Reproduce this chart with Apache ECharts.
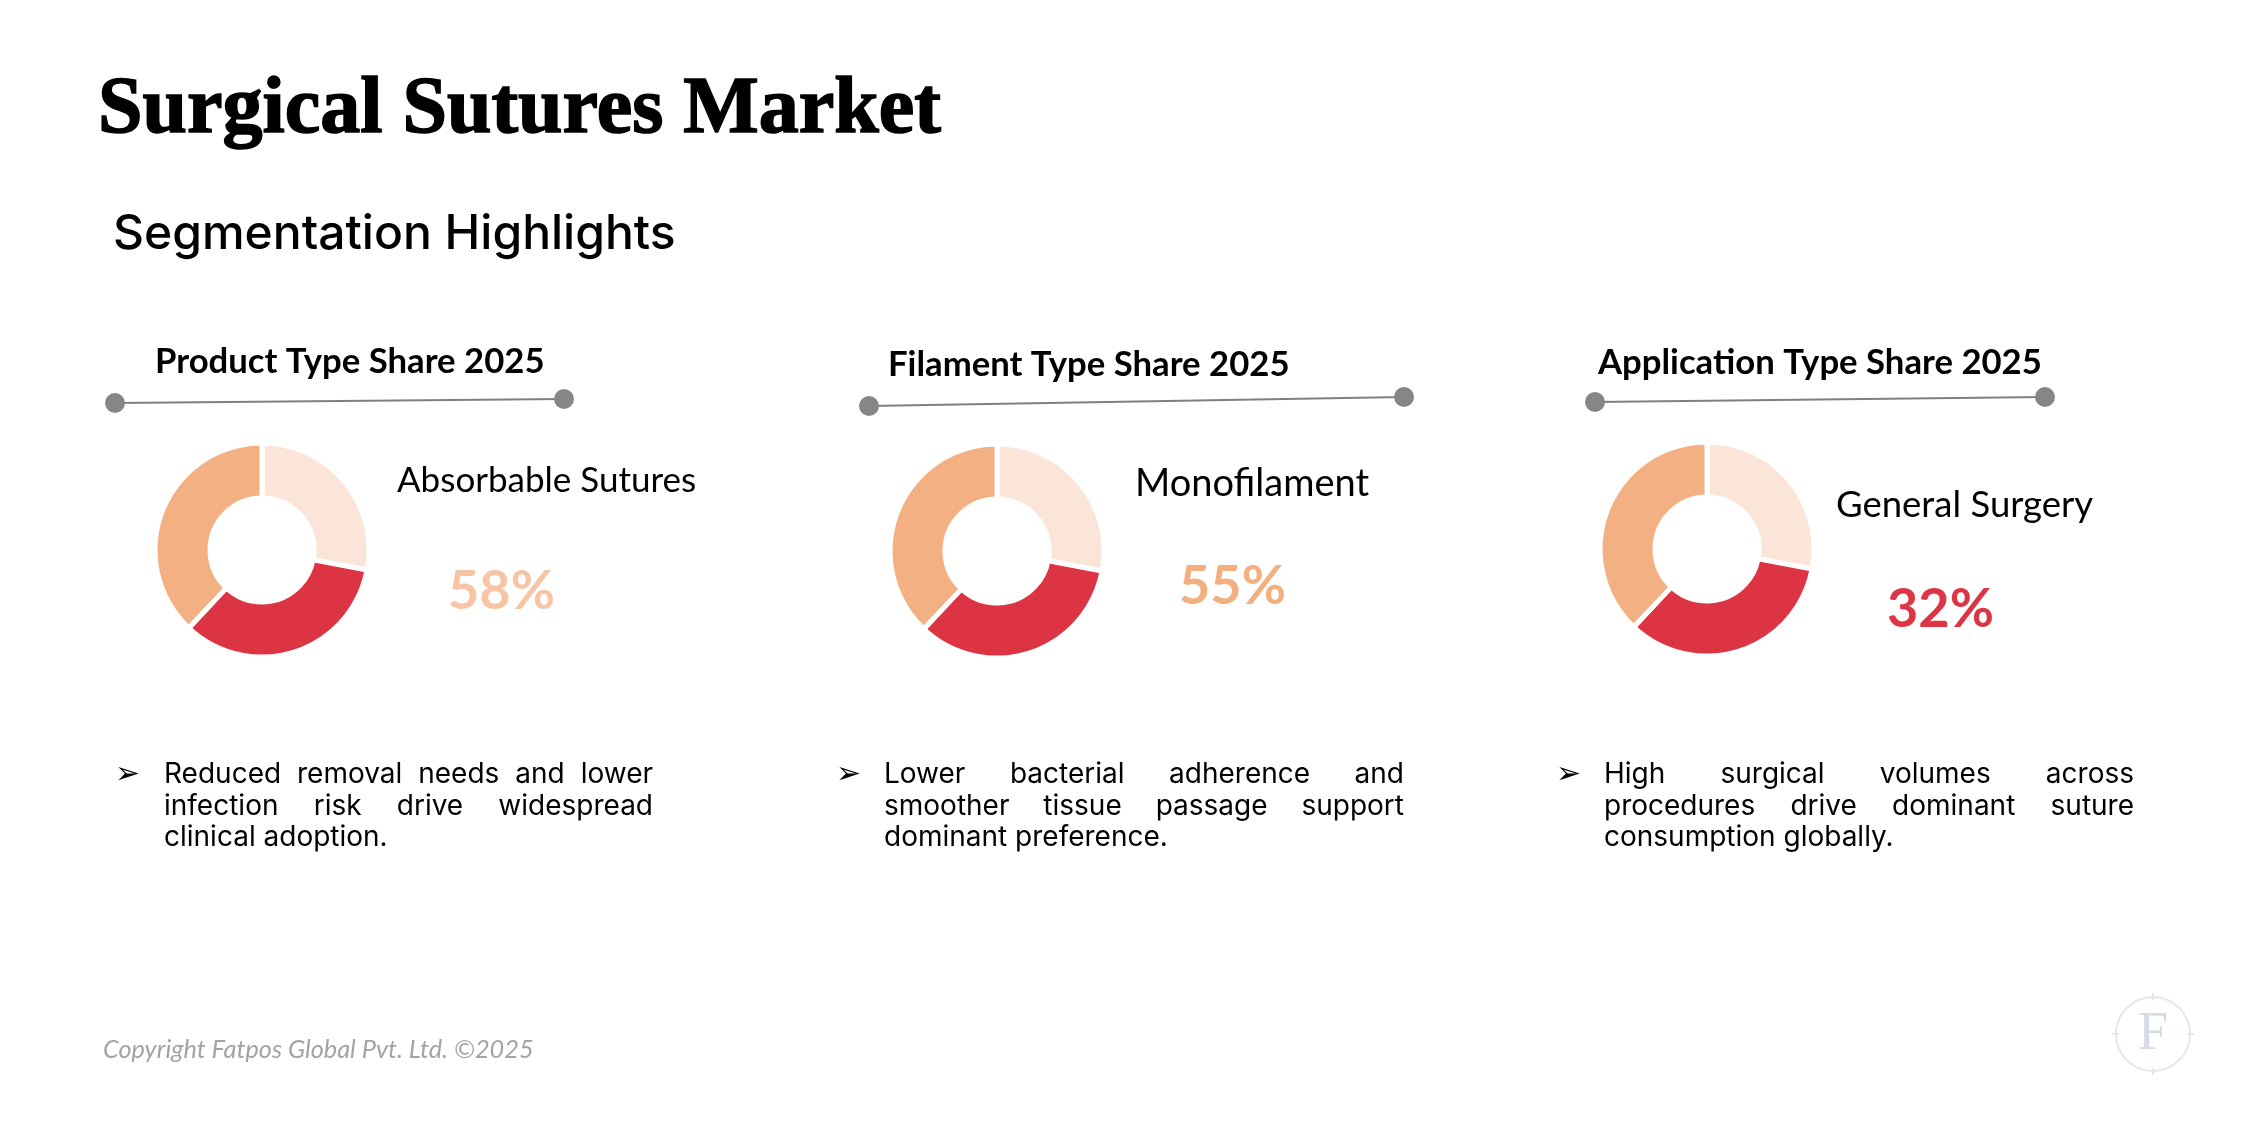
<!DOCTYPE html>
<html>
<head>
<meta charset="utf-8">
<title>Surgical Sutures Market</title>
<script src="https://cdn.jsdelivr.net/npm/echarts@6/dist/echarts.min.js"></script>
<style>
  html, body { margin: 0; padding: 0; background: #fff; }
  #main { width: 2249px; height: 1126px; }
</style>
</head>
<body>
<div id="main"></div>
<script>
// ---- data ----
var pageTitle = 'Surgical Sutures Market';
var pageSubtitle = 'Segmentation Highlights';
var segmentTitles = ['Product Type Share 2025', 'Filament Type Share 2025', 'Application Type Share 2025'];
var leadNames = ['Absorbable Sutures', 'Monofilament', 'General Surgery'];
var leadShares = [58, 55, 32];
// the three rings are drawn the same in the source (light / red / orange)
var ringSlices = [28, 34, 38];
var bulletLines = [
  ['Reduced removal needs and lower', 'infection risk drive widespread', 'clinical adoption.'],
  ['Lower bacterial adherence and', 'smoother tissue passage support', 'dominant preference.'],
  ['High surgical volumes across', 'procedures drive dominant suture', 'consumption globally.']
];
var footerText = 'Copyright Fatpos Global Pvt. Ltd. \u00a92025';

// ---- layout ----
var panels = [
  { head: [155, 374], dotL: [115, 403], dotR: [564, 399], ring: [262, 550], name: [397, 493], nameSize: 35, pct: [448, 610], pctColor: '#F7C5A3', bullet: 115, textL: 164, textR: 653 },
  { head: [888, 377], dotL: [869, 406], dotR: [1404, 397], ring: [997, 551], name: [1135, 497], nameSize: 38, pct: [1179, 605], pctColor: '#F2AF80', bullet: 836, textL: 884, textR: 1404 },
  { head: [1598, 375], dotL: [1595, 402], dotR: [2045, 397], ring: [1707, 549], name: [1836, 518], nameSize: 36.5, pct: [1887, 628], pctColor: '#DC3545', bullet: 1556, textL: 1604, textR: 2134 }
];
var sliceColors = ['#FBE5D8', '#DD3444', '#F3B183'];
var bodyFont = 'Inter';
var bodySize = 28;
var lineBase = [784, 816, 847];

var chart = echarts.init(document.getElementById('main'), null, { renderer: 'canvas' });

var measureCtx = document.createElement('canvas').getContext('2d');
function textWidth(str, size, family, weight) {
  measureCtx.font = (weight || 'normal') + ' ' + size + 'px "' + family + '"';
  return measureCtx.measureText(str).width;
}

// baseline -> middle for graphic text
function txt(str, x, base, size, opts) {
  opts = opts || {};
  var st = {
    text: str, fill: opts.color || '#000',
    font: (opts.style || 'normal') + ' ' + (opts.weight || 'normal') + ' ' + size + 'px "' + (opts.family || 'Lato') + '"',
    align: opts.align || 'left', verticalAlign: 'middle'
  };
  if (opts.stroke) { st.stroke = opts.color || '#000'; st.lineWidth = opts.stroke; }
  return { type: 'text', x: x, y: base - size * 0.34, silent: true, style: st };
}

function justify(line, x0, x1, base, last) {
  var words = line.split(' ');
  var out = [];
  if (last || words.length < 2) {
    out.push(txt(line, x0, base, bodySize, { family: bodyFont }));
    return out;
  }
  var total = 0;
  words.forEach(function (w) { total += textWidth(w, bodySize, bodyFont); });
  var gap = (x1 - x0 - total) / (words.length - 1);
  var x = x0;
  words.forEach(function (w) {
    out.push(txt(w, x, base, bodySize, { family: bodyFont }));
    x += textWidth(w, bodySize, bodyFont) + gap;
  });
  return out;
}

var graphics = [];
graphics.push(txt(pageTitle, 98, 139, 80, { family: 'Liberation Serif', weight: 'bold', stroke: 1.6 }));
graphics.push(txt(pageSubtitle, 113, 251, 48, { family: bodyFont, weight: '500' }));

var series = [];
panels.forEach(function (p, i) {
  graphics.push(txt(segmentTitles[i], p.head[0], p.head[1], 34.7, { weight: 'bold' }));
  graphics.push({
    type: 'line', silent: true,
    shape: { x1: p.dotL[0], y1: p.dotL[1], x2: p.dotR[0], y2: p.dotR[1] },
    style: { stroke: '#7F7F7F', lineWidth: 2 }
  });
  graphics.push({ type: 'circle', silent: true, shape: { cx: p.dotL[0], cy: p.dotL[1], r: 10 }, style: { fill: '#868686' } });
  graphics.push({ type: 'circle', silent: true, shape: { cx: p.dotR[0], cy: p.dotR[1], r: 10 }, style: { fill: '#868686' } });
  graphics.push(txt(leadNames[i], p.name[0], p.name[1], p.nameSize, {}));
  graphics.push(txt(leadShares[i] + '%', p.pct[0], p.pct[1], 54, { weight: 'bold', color: p.pctColor }));

  graphics.push(txt('\u27a2', p.bullet, lineBase[0] + 1, 30, { family: 'DejaVu Sans' }));
  bulletLines[i].forEach(function (line, k) {
    graphics = graphics.concat(justify(line, p.textL, p.textR, lineBase[k], k === bulletLines[i].length - 1));
  });

  series.push({
    type: 'pie',
    center: p.ring,
    radius: [52, 107],
    startAngle: 90,
    clockwise: true,
    silent: true,
    label: { show: false },
    labelLine: { show: false },
    itemStyle: { borderColor: '#fff', borderWidth: 5 },
    data: ringSlices.map(function (v, k) {
      return { value: v, itemStyle: { color: sliceColors[k] } };
    })
  });
});

graphics.push(txt(footerText, 103, 1058, 25.3, { style: 'italic', color: '#A3A3A3' }));

// logo mark
var lg = [2153, 1034];
graphics.push({ type: 'circle', silent: true, shape: { cx: lg[0], cy: lg[1], r: 37 }, style: { fill: 'none', stroke: '#E4E7ED', lineWidth: 2 } });
[[0, -1], [0, 1], [-1, 0], [1, 0]].forEach(function (d) {
  graphics.push({
    type: 'line', silent: true,
    shape: { x1: lg[0] + d[0] * 34, y1: lg[1] + d[1] * 34, x2: lg[0] + d[0] * 41, y2: lg[1] + d[1] * 41 },
    style: { stroke: '#E4E7ED', lineWidth: 2 }
  });
});
graphics.push(txt('F', lg[0], lg[1] + 19, 54, { family: 'Liberation Serif', color: '#D6DBE5', align: 'center' }));

chart.setOption({
  backgroundColor: '#fff',
  animation: false,
  series: series,
  graphic: graphics
});
</script>
</body>
</html>
